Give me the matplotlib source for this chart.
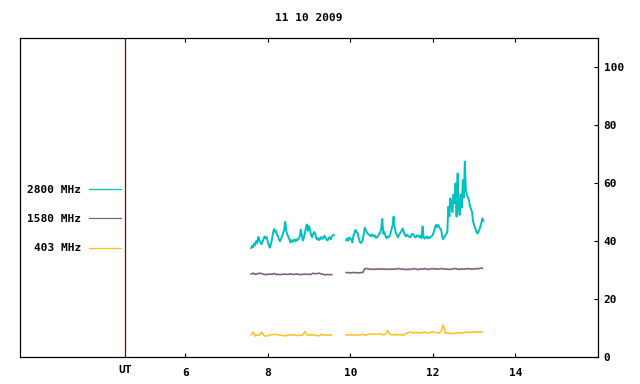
import numpy as np
import matplotlib
matplotlib.use('Agg')
import matplotlib.pyplot as plt

# datos (flujo solar, dia 11 10 2009)
titulo = '11 10 2009'
etiquetas = ['2800 MHz', '1580 MHz', '403 MHz']
colores = ['#00c0c0', '#806080', '#ffc020']
grosor = [1.4, 1.2, 1.1]
ut_linea = 4.55

# 2800 MHz, dos tramos, paso 0.025 h
t2800_a0, t2800_b0, paso_2800 = 7.60, 9.90, 0.025
f2800_a = [37.6, 38.4, 37.9, 39.2, 38.6, 40.1, 39.4, 41.4, 40.2, 39.6,
           38.9, 39.8, 40.7, 41.6, 40.9, 41.3, 39.8, 38.6, 37.7, 38.8,
           40.3, 42.5, 44.1, 43.2, 43.6, 42.1, 41.7, 40.4, 39.9, 40.8,
           41.7, 42.8, 44.0, 46.6, 43.4, 42.2, 41.5, 40.6, 39.5, 40.3,
           39.7, 40.2, 40.5, 39.8, 40.6, 40.3, 40.9, 41.5, 43.9, 42.3,
           40.2, 41.1, 42.8, 44.6, 45.7, 43.5, 45.2, 44.0, 42.1, 41.3,
           42.4, 43.1, 42.6, 40.9, 40.5, 41.0, 40.3, 40.8, 41.4, 40.7,
           41.2, 41.8, 41.1, 40.5, 40.2, 40.9, 41.3, 40.6, 41.5, 41.9,
           42.1]
f2800_b = [40.3, 40.9, 40.1, 41.2, 41.0, 40.4, 39.5, 41.8, 42.6, 43.8,
           43.1, 42.9, 41.2, 40.0, 39.3, 39.7, 40.1, 42.3, 44.6, 43.9,
           43.0, 42.6, 42.2, 42.0, 41.6, 42.3, 42.0, 41.5, 41.9, 41.1,
           41.3, 41.8, 42.4, 43.0, 44.2, 47.6, 42.5, 43.1, 41.9, 41.0,
           41.6, 41.3, 41.5, 42.7, 44.1, 45.5, 48.4, 44.6, 43.0, 42.1,
           41.3, 41.9, 42.6, 43.0, 43.8, 44.3, 42.9, 42.0, 41.6, 42.2,
           41.8, 41.4, 41.3, 41.9, 42.5, 42.3, 41.7, 41.2, 41.5, 42.0,
           41.6, 41.3, 41.9, 40.9, 45.0, 41.4, 40.8, 41.2, 41.6, 40.9,
           41.3, 41.0, 41.5, 41.7, 42.2, 43.2, 44.6, 45.5, 44.8, 45.6,
           45.0, 44.2, 44.0, 41.5, 40.6, 41.2, 41.9, 42.5, 43.0, 51.8,
           48.5, 54.7, 52.0, 50.0, 56.0, 53.0, 59.9, 48.4, 63.3, 52.0,
           49.0, 56.0, 51.5, 61.0, 55.0, 67.4, 57.0, 56.0, 55.0, 54.0,
           52.0, 51.0, 50.0, 46.7, 45.5, 44.4, 43.5, 42.6, 43.0, 43.8,
           45.0, 46.2, 47.8, 47.0]

# 1580 MHz y 403 MHz, paso 0.05 h
t_a0, t_b0, paso = 7.60, 9.90, 0.05
f1580_a = [28.6, 28.9, 28.5, 28.7, 28.9, 28.8, 28.5, 28.4, 28.5, 28.6,
           28.5, 28.8, 28.5, 28.5, 28.4, 28.5, 28.6, 28.5, 28.5, 28.7,
           28.5, 28.5, 28.6, 28.5, 28.4, 28.5, 28.6, 28.5, 28.5, 28.5,
           28.9, 28.7, 28.8, 28.9, 28.6, 28.5, 28.3, 28.5, 28.4, 28.4]
f1580_b = [29.1, 29.1, 29.0, 29.1, 29.1, 29.1, 29.0, 29.1, 29.1, 30.4,
           30.5, 30.3, 30.3, 30.2, 30.3, 30.3, 30.3, 30.4, 30.3, 30.3,
           30.2, 30.3, 30.3, 30.3, 30.3, 30.5, 30.4, 30.3, 30.3, 30.1,
           30.3, 30.2, 30.3, 30.5, 30.3, 30.1, 30.4, 30.3, 30.5, 30.3,
           30.2, 30.4, 30.5, 30.3, 30.4, 30.3, 30.5, 30.4, 30.3, 30.3,
           30.2, 30.3, 30.4, 30.5, 30.3, 30.2, 30.4, 30.3, 30.4, 30.5,
           30.3, 30.4, 30.3, 30.5, 30.4, 30.6, 30.6]
f403_a = [7.6, 8.6, 7.2, 7.6, 7.6, 8.6, 7.5, 7.2, 7.3, 7.6,
          7.6, 7.8, 7.8, 7.6, 7.6, 7.4, 7.3, 7.3, 7.6, 7.7,
          7.6, 7.6, 7.4, 7.4, 7.5, 7.6, 8.8, 7.6, 7.6, 7.6,
          7.6, 7.6, 7.3, 7.4, 7.8, 7.6, 7.6, 7.5, 7.6, 7.6]
f403_b = [7.6, 7.6, 7.6, 7.6, 7.6, 7.6, 7.6, 7.6, 7.9, 7.6,
          7.6, 7.9, 7.9, 7.9, 7.8, 7.9, 7.9, 7.9, 7.6, 7.9,
          9.2, 7.9, 7.6, 7.7, 7.6, 7.8, 7.6, 7.6, 7.6, 8.1,
          8.4, 8.6, 8.4, 8.3, 8.6, 8.2, 8.4, 8.3, 8.6, 8.4,
          8.3, 8.5, 8.7, 8.4, 8.5, 8.3, 8.9, 11.1, 8.1, 8.4,
          8.3, 8.0, 8.2, 8.1, 8.3, 8.4, 8.3, 8.4, 8.6, 8.5,
          8.4, 8.5, 8.7, 8.5, 8.6, 8.7, 8.6]

xticks = [6, 8, 10, 12, 14]
yticks = [0, 20, 40, 60, 80, 100]

fuente = {'family': 'DejaVu Sans Mono', 'weight': 'bold', 'size': 8}

fig = plt.figure(figsize=(6.4, 3.84), dpi=100)
ax = fig.add_axes([20/640, 27/384, 578/640, 319/384])

def tiempos(t0, dt, vals):
    return t0 + dt*np.arange(len(vals))

series = [(t2800_a0, t2800_b0, paso_2800, f2800_a, f2800_b),
          (t_a0, t_b0, paso, f1580_a, f1580_b),
          (t_a0, t_b0, paso, f403_a, f403_b)]
for (ta, tb, dt, va, vb), lab, col, lw in zip(series, etiquetas, colores, grosor):
    ax.plot(tiempos(ta, dt, va), va, color=col, lw=lw, label=lab)
    ax.plot(tiempos(tb, dt, vb), vb, color=col, lw=lw)

ax.axvline(ut_linea, color='#800000', lw=0.9)

ax.set_xlim(2, 16)
ax.set_ylim(0, 110)
ax.set_xticks(xticks)
ax.set_xticklabels([str(v) for v in xticks], fontdict=fuente)
ax.yaxis.tick_right()
ax.set_yticks(yticks)
ax.set_yticklabels([str(v) for v in yticks], fontdict=fuente)
ax.tick_params(axis='x', direction='in', length=3, width=0.8, top=True, pad=8)
ax.tick_params(axis='y', direction='in', length=3, width=0.8, left=False, right=True, pad=4)
for s in ax.spines.values():
    s.set_linewidth(0.9)

ax.text(ut_linea, -2.6, 'UT', ha='center', va='top', fontdict=fuente)
ax.set_title(titulo, fontdict=fuente, pad=12)

leg = ax.legend(loc='center right', bbox_to_anchor=(121/640, 1 - 219/384),
                bbox_transform=fig.transFigure, frameon=False, markerfirst=False,
                prop=fuente, handlelength=2.9, handletextpad=0.7,
                labelspacing=1.75, borderpad=0, borderaxespad=0)
for h in leg.get_lines():
    h.set_linewidth(0.9)

plt.savefig('out.png', dpi=100)
